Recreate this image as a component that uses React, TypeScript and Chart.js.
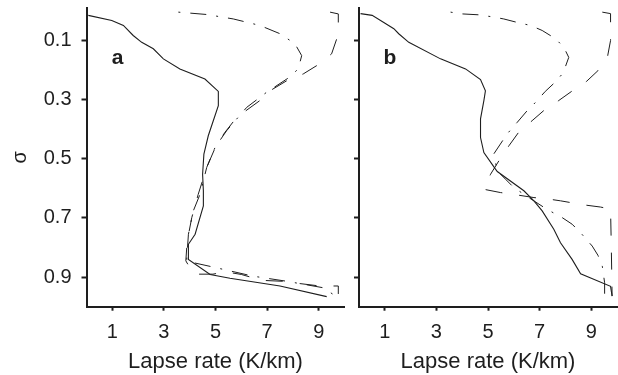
import React, { useEffect, useRef } from 'react';
import { Chart, registerables } from 'chart.js';

Chart.register(...registerables);

// ---- axis ticks ----
const sigmaTicks = [0.1, 0.3, 0.5, 0.7, 0.9];
const lapseTicks = [1, 3, 5, 7, 9];

// ---- panel a ----
const aSolidLapse = [0.07, 0.98, 1.43, 1.81, 2.14, 2.59, 2.98, 3.62, 4.59, 5.11, 5.11, 4.72, 4.55, 4.5, 4.53, 4.53, 4.21, 3.95, 3.95, 4.79, 5.56, 7.5, 9.31];
const aSolidSigma = [0.015, 0.032, 0.049, 0.083, 0.106, 0.128, 0.162, 0.196, 0.23, 0.272, 0.32, 0.422, 0.484, 0.552, 0.608, 0.659, 0.755, 0.789, 0.84, 0.891, 0.904, 0.93, 0.966];

const aDashDotLapse = [3.56, 4.66, 5.69, 6.72, 7.5, 8.08, 8.34, 8.21, 7.8, 6.98, 6.21, 5.43, 4.98, 4.66, 4.4, 4.14, 3.95, 3.88, 4.91, 6.47, 7.76, 9.18, 9.57];
const aDashDotSigma = [0.004, 0.012, 0.027, 0.049, 0.077, 0.111, 0.151, 0.196, 0.228, 0.275, 0.326, 0.405, 0.462, 0.529, 0.62, 0.676, 0.755, 0.846, 0.866, 0.897, 0.914, 0.936, 0.959];

const aDashedLapse = [9.44, 9.76, 9.76, 9.7, 9.5, 8.92, 8.4, 7.76, 7.11, 6.72, 5.82, 5.37, 5.05, 4.66, 4.33, 4.08, 3.9, 3.85, 4.15, 4.9, 5.4, 6.0, 6.8, 7.6, 8.0, 9.05, 9.76, 9.76];
const aDashedSigma = [0.004, 0.01, 0.04, 0.094, 0.145, 0.185, 0.213, 0.236, 0.27, 0.303, 0.36, 0.41, 0.45, 0.529, 0.62, 0.699, 0.78, 0.845, 0.89, 0.89, 0.882, 0.891, 0.911, 0.914, 0.919, 0.93, 0.93, 0.957];

// ---- panel b ----
const bSolidLapse = [0.06, 0.51, 1.35, 1.54, 1.93, 3.16, 4.13, 4.71, 4.9, 4.84, 4.71, 4.71, 4.84, 5.29, 5.36, 6.39, 6.78, 7.1, 7.55, 7.81, 8.26, 8.59, 9.75, 9.81];
const bSolidSigma = [0.009, 0.015, 0.06, 0.077, 0.106, 0.162, 0.196, 0.232, 0.27, 0.303, 0.365, 0.428, 0.479, 0.535, 0.543, 0.608, 0.642, 0.676, 0.738, 0.784, 0.84, 0.889, 0.931, 0.964];

const bDashDotLapse = [3.55, 4.0, 4.64, 5.1, 5.61, 6.19, 6.65, 7.1, 7.62, 7.94, 8.13, 7.91, 7.6, 7.22, 6.82, 6.52, 6.13, 5.74, 5.48, 5.22, 5.36, 5.68, 6.0, 6.58, 7.29, 7.88, 8.26, 8.59, 9.04, 9.26, 9.43, 9.52, 9.52];
const bDashDotSigma = [0.004, 0.01, 0.013, 0.019, 0.027, 0.04, 0.049, 0.066, 0.094, 0.123, 0.157, 0.21, 0.241, 0.272, 0.311, 0.337, 0.377, 0.416, 0.45, 0.484, 0.541, 0.569, 0.597, 0.631, 0.671, 0.699, 0.721, 0.75, 0.795, 0.826, 0.863, 0.919, 0.961];

const bDashedLapse = [9.43, 9.75, 9.75, 9.64, 9.26, 8.82, 8.24, 7.74, 7.16, 6.71, 6.19, 5.81, 5.42, 5.1, 4.84, 5.48, 6.19, 6.78, 7.42, 7.81, 8.74, 9.36, 9.75, 9.78, 9.81];
const bDashedSigma = [0.004, 0.009, 0.1, 0.151, 0.202, 0.238, 0.272, 0.303, 0.337, 0.371, 0.41, 0.456, 0.507, 0.552, 0.603, 0.614, 0.623, 0.631, 0.637, 0.642, 0.656, 0.663, 0.67, 0.8, 0.964];

const INK = '#1e1e1e';
const FONT = "'Liberation Sans', Arial, Helvetica, sans-serif";

function pts(l: number[], s: number[]) {
  return l.map((x, i) => ({ x, y: s[i] }));
}

const panelLabel = {
  id: 'panelLabel',
  afterDraw(chart: any, _args: any, opts: any) {
    const { ctx, chartArea } = chart;
    ctx.save();
    ctx.fillStyle = INK;
    ctx.font = `bold 21px ${FONT}`;
    ctx.textAlign = 'center';
    ctx.textBaseline = 'middle';
    ctx.fillText(opts.text, chartArea.left + 31, chartArea.top + 50);
    ctx.restore();
  },
};

function zeroPad(s: any) {
  s.paddingTop = 0;
  s.paddingBottom = 0;
  s.paddingLeft = 0;
  s.paddingRight = 0;
}

function makeConfig(panel: 'a' | 'b', yWidth: number, padRight: number): any {
  const isA = panel === 'a';
  const solid = isA ? pts(aSolidLapse, aSolidSigma) : pts(bSolidLapse, bSolidSigma);
  const dashDot = isA ? pts(aDashDotLapse, aDashDotSigma) : pts(bDashDotLapse, bDashDotSigma);
  const dashed = isA ? pts(aDashedLapse, aDashedSigma) : pts(bDashedLapse, bDashedSigma);
  const common = { showLine: true, pointRadius: 0, borderColor: INK, tension: 0, fill: false };
  return {
    type: 'scatter',
    data: {
      datasets: [
        { ...common, data: solid, borderWidth: 1.1 },
        { ...common, data: dashDot, borderWidth: 1, borderDash: [16, 10, 2, 10], borderDashOffset: 26 },
        { ...common, data: dashed, borderWidth: 1, borderDash: [17, 17] },
      ],
    },
    options: {
      animation: false,
      responsive: false,
      events: [],
      layout: { padding: { top: 8, right: padRight, left: 0, bottom: 0 } },
      plugins: { legend: { display: false }, tooltip: { enabled: false }, panelLabel: { text: panel } },
      scales: {
        x: {
          type: 'linear',
          position: 'bottom',
          min: 0,
          max: 10,
          afterBuildTicks: (s: any) => { s.ticks = lapseTicks.map((v) => ({ value: v })); },
          afterFit: (s: any) => { s.height = 68.3; zeroPad(s); },
          grid: { drawOnChartArea: false, drawTicks: true, tickLength: 4, tickWidth: 2, tickColor: INK },
          border: { display: true, width: 2, color: INK },
          ticks: { color: INK, font: { family: FONT, size: 20 }, padding: 10, maxRotation: 0, callback: (v: any) => String(v) },
          title: { display: true, text: 'Lapse rate (K/km)', color: INK, font: { family: FONT, size: 22 }, padding: { top: 0, bottom: 0 } },
        },
        y: {
          type: 'linear',
          position: 'left',
          reverse: true,
          min: -0.01,
          max: 1.0,
          afterBuildTicks: (s: any) => { s.ticks = sigmaTicks.map((v) => ({ value: v })); },
          afterFit: (s: any) => { s.width = yWidth; zeroPad(s); },
          grid: { drawOnChartArea: false, drawTicks: true, tickLength: 5, tickWidth: 2, tickColor: INK },
          border: { display: true, width: 2, color: INK },
          ticks: { color: INK, font: { family: FONT, size: 20 }, padding: 10, callback: (v: any) => (isA ? Number(v).toFixed(1) : '') },
          title: { display: isA, text: 'σ', color: INK, font: { family: FONT, size: 20 }, padding: { top: 8, bottom: 0 } },
        },
      },
    },
    plugins: [panelLabel],
  };
}

function Panel({ panel, left, width, yWidth, padRight }: { panel: 'a' | 'b'; left: number; width: number; yWidth: number; padRight: number }) {
  const ref = useRef<HTMLCanvasElement | null>(null);
  useEffect(() => {
    if (!ref.current) return;
    const chart = new Chart(ref.current, makeConfig(panel, yWidth, padRight));
    return () => chart.destroy();
  }, [panel, yWidth, padRight]);
  return (
    <canvas
      ref={ref}
      width={width}
      height={375}
      style={{ position: 'absolute', left, top: 0, width, height: 375 }}
    />
  );
}

export default function App() {
  return (
    <div style={{ position: 'absolute', left: 0, top: 0, width: 618, height: 375, background: '#fff', overflow: 'hidden' }}>
      <Panel panel="a" left={0} width={350} yWidth={86.5} padRight={5.5} />
      <Panel panel="b" left={345} width={273} yWidth={14} padRight={1} />
    </div>
  );
}
